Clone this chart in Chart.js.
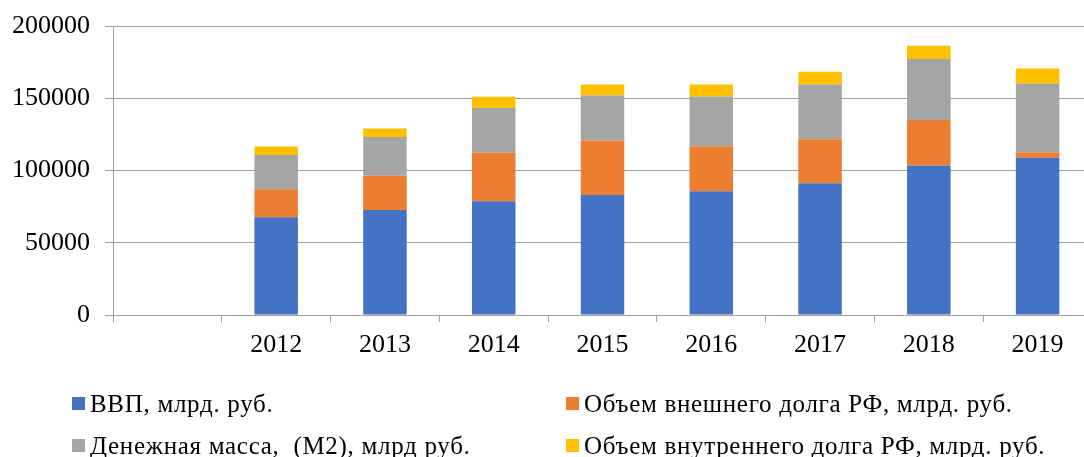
<!DOCTYPE html>
<html>
<head>
    <meta charset="UTF-8">
    <title>Chart</title>
    <script src="https://cdn.jsdelivr.net/npm/chart.js"></script>
    <style>
        body {
            margin: 0;
            background: #fff;
            overflow: hidden;
        }
        .wrap {
            position: absolute;
            left: 0;
            top: 0;
            width: 1092px;
            height: 457px;
        }
    </style>
</head>
<body>
    <div class="wrap"><canvas id="chart"></canvas></div>

    <script>
        // categories (first slot is empty in the original)
        const years = ['', '2012', '2013', '2014', '2015', '2016', '2017', '2018', '2019'];

        const gdp      = [null, 67600, 72600, 78800, 83000, 85700, 91200, 103400, 108800];
        const extDebt  = [null, 19500, 23700, 33400, 37700, 31100, 30400, 31600, 3800];
        const moneyM2  = [null, 23700, 26900, 31000, 31200, 34400, 37900, 42200, 47400];
        const intDebt  = [null, 5800, 5800, 7800, 7600, 8300, 8800, 9200, 10600];

        const yTicks = [0, 50000, 100000, 150000, 200000];

        const labels = [
            'ВВП, млрд. руб.',
            'Объем внешнего долга РФ, млрд. руб.',
            'Денежная масса,  (М2), млрд руб.',
            'Объем внутреннего долга РФ, млрд. руб.'
        ];
        const colors = ['#4472C4', '#ED7D31', '#A5A5A5', '#FFC000'];
        const series = [gdp, extDebt, moneyM2, intDebt];

        const fontFamily = "'Liberation Serif', 'DejaVu Serif', serif";

        // two-column legend drawn on the canvas under the axis
        const gridLegend = {
            id: 'gridLegend',
            afterDraw(chart) {
                const ctx = chart.ctx;
                const cols = [72, 566];
                const rows = [403, 445];
                ctx.save();
                ctx.font = '25px ' + fontFamily;
                if ('letterSpacing' in ctx) ctx.letterSpacing = '0.7px';
                ctx.textBaseline = 'alphabetic';
                chart.data.datasets.forEach((ds, i) => {
                    const x = cols[i % 2];
                    const y = rows[Math.floor(i / 2)];
                    ctx.fillStyle = ds.backgroundColor;
                    ctx.fillRect(x, y - 6, 13, 13);
                    ctx.fillStyle = '#000';
                    ctx.fillText(ds.label, x + 18, y + 9);
                });
                ctx.restore();
            }
        };

        new Chart(document.getElementById('chart'), {
            type: 'bar',
            data: {
                labels: years,
                datasets: series.map((d, i) => ({
                    label: labels[i],
                    data: d,
                    backgroundColor: colors[i],
                    borderWidth: 0,
                    barPercentage: 1,
                    categoryPercentage: 0.4
                }))
            },
            options: {
                responsive: true,
                maintainAspectRatio: false,
                animation: false,
                layout: { padding: { top: 26, left: 0, right: 0, bottom: 87 } },
                plugins: {
                    legend: { display: false },
                    tooltip: { enabled: false }
                },
                scales: {
                    x: {
                        stacked: true,
                        grid: {
                            offset: true,
                            drawOnChartArea: false,
                            drawTicks: true,
                            tickLength: 7,
                            color: '#a0a0a0'
                        },
                        border: { color: '#a0a0a0' },
                        ticks: { font: { family: fontFamily, size: 26 }, color: '#000', padding: 8, maxRotation: 0 },
                        afterFit: s => { s.height = 55; }
                    },
                    y: {
                        stacked: true,
                        min: 0,
                        max: 200000,
                        afterBuildTicks: s => { s.ticks = yTicks.map(v => ({ value: v })); },
                        grid: { color: '#a0a0a0', tickLength: 8 },
                        border: { color: '#a0a0a0' },
                        ticks: {
                            font: { family: fontFamily, size: 26, lineHeight: 0.8 },
                            color: '#000',
                            padding: 15,
                            callback: v => String(v)
                        },
                        afterFit: s => { s.width = 113; }
                    }
                }
            },
            plugins: [gridLegend]
        });
    </script>
</body>
</html>
